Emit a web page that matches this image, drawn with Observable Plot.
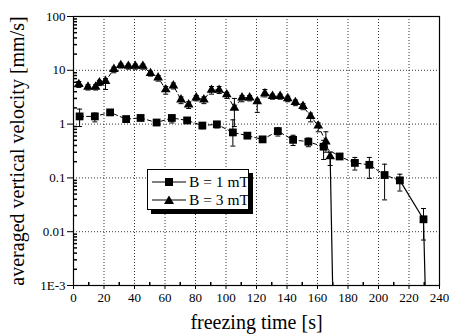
<!DOCTYPE html>
<html><head><meta charset="utf-8">
<script src="https://cdn.jsdelivr.net/npm/d3@7"></script>
<script src="https://cdn.jsdelivr.net/npm/@observablehq/plot@0.6"></script>
<style>
body{margin:0;background:#fff}
#wrap{position:relative;width:449px;height:335px;font-family:"Liberation Serif",serif}
#wrap svg, #wrap svg text{font-family:"Liberation Serif",serif !important}
#legend{position:absolute;left:147px;top:169px;width:100px;height:39px;border:1px solid #000;background:#fff;box-shadow:4px 4px 0 #000}
.row{position:absolute;left:4px;height:18px;display:flex;align-items:center;font-size:15.5px;white-space:nowrap}
.row svg{margin-right:3px}
</style>
</head><body><div id="wrap"><div id="legend"></div></div>
<script>
// B = 1 mT (squares)
const t1  = [4,14,24,34.5,44,54.5,64.5,74.5,84.5,94,104.5,114,124,134,144,154,164,174.5,184.5,194,204,214,229.5];
const v1  = [1.39,1.39,1.65,1.24,1.3,1.07,1.3,1.17,0.94,0.99,0.70,0.61,0.52,0.74,0.51,0.47,0.38,0.25,0.19,0.175,0.113,0.09,0.017];
const lo1 = [0.9,1.1,1.45,1.15,1.2,0.98,1.05,1.05,0.82,0.85,0.39,0.56,0.47,0.6,0.4,0.38,0.22,0.23,0.14,0.098,0.039,0.057,0.007];
const hi1 = [1.9,1.6,1.8,1.3,1.4,1.15,1.45,1.25,1.05,1.1,1.2,0.66,0.58,0.85,0.62,0.55,0.5,0.27,0.24,0.24,0.18,0.117,0.027];
// B = 3 mT (triangles)
const t3  = [3.5,9.5,14.5,17,21,26.5,31,36,40.5,45.5,50.5,55.5,60.5,65.5,70.5,75.5,80.5,85.5,90.5,95.5,100.5,105.5,110.5,115.5,120.5,125.5,130.5,135.5,140.5,145.5,150.5,155.5,160.5,165.5,168.3];
const v3  = [5.5,4.9,4.9,5.9,6.3,10.5,12.4,12,12,12,8.8,7.3,4.4,5.2,2.85,2.3,3.1,2.85,4.3,4.3,3.55,2.0,3.1,3.1,2.65,3.7,3.3,3.3,3.0,2.55,2.15,1.4,0.93,0.47,0.25];
const lo3 = [4.8,4.3,4.3,5.2,4.4,9.0,11,10.5,10.5,10.5,7.8,6.3,3.6,4.5,2.4,1.95,2.7,2.4,3.6,3.7,3.0,0.9,2.6,2.7,1.65,3.2,2.9,2.9,2.6,2.2,1.85,1.1,0.72,0.3,0.17];
const hi3 = [6.2,5.4,5.4,6.5,7.0,11.5,13.5,13,13,13,9.6,8.0,5.0,5.8,3.2,2.6,3.4,3.2,5.0,5.0,3.9,3.0,3.4,3.4,2.9,4.4,3.6,3.6,3.3,2.8,2.4,1.6,1.05,0.72,0.3];
// drops to below the axis (values off scale)
const drop1T = [214,229.5,231.5], drop1V = [0.09,0.017,0.0001];
const drop3T = [168.3,170.6],     drop3V = [0.25,0.0001];
// axes
const xTicks = [0,20,40,60,80,100,120,140,160,180,200,220,240];
const xMinor = [10,30,50,70,90,110,130,150,170,190,210,230];
const yTicks = [0.001,0.01,0.1,1,10,100];
const yLabels = ["1E-3","0.01","0.1","1","10","100"];
const yMinor = [0.001,0.01,0.1,1,10].flatMap(d => [2,3,4,5,6,7,8,9].map(k => +(d*k).toPrecision(3)));
const seriesNames = ["B = 1 mT","B = 3 mT"];
const xTitle = "freezing time [s]";
const yTitle = "averaged vertical velocity [mm/s]";

const s1 = t1.map((t,i)=>({t, v:v1[i], lo:lo1[i], hi:hi1[i]}));
const s3 = t3.map((t,i)=>({t, v:v3[i], lo:lo3[i], hi:hi3[i]}));
const d1 = drop1T.map((t,i)=>({t, v:drop1V[i]}));
const d3d = drop3T.map((t,i)=>({t, v:drop3V[i]}));

const cap = {draw(ctx){ctx.moveTo(-2.5,0);ctx.lineTo(2.5,0);}};
const vTick = {draw(ctx){ctx.moveTo(0,0);ctx.lineTo(0,-3.5);}};
const hTick = {draw(ctx){ctx.moveTo(0,0);ctx.lineTo(3.5,0);}};
const serif = "Liberation Serif";

const chart = Plot.plot({
  width: 449, height: 335,
  marginLeft: 73, marginRight: 10, marginTop: 16, marginBottom: 50,
  style: {fontFamily: serif, fontSize: "13px", color: "#000", background: "#fff"},
  x: {domain: [0,240], ticks: xTicks, tickSize: 4, tickPadding: 3, label: null, tickFormat: d => String(d)},
  y: {type: "log", domain: [0.001,100], ticks: yTicks, tickSize: 6, tickPadding: 2, label: null,
      tickFormat: d => yLabels[yTicks.indexOf(d)]},
  marks: [
    Plot.ruleX(xTicks.slice(1,-1), {stroke: "#000", strokeWidth: 0.8, strokeDasharray: "1,2"}),
    Plot.ruleY(yTicks.slice(1,-1), {stroke: "#000", strokeWidth: 0.8, strokeDasharray: "1,2"}),
    Plot.dot(xMinor.map(x => ({x})), {x: "x", y: () => 0.001, symbol: vTick, stroke: "#000", r: 3}),
    Plot.dot(yMinor.map(y => ({y})), {x: () => 0, y: "y", symbol: hTick, stroke: "#000", r: 3}),
    // error bars
    Plot.ruleX(s1, {x: "t", y1: "lo", y2: "hi", stroke: "#000", strokeWidth: 1}),
    Plot.dot(s1, {x: "t", y: "lo", symbol: cap, stroke: "#000", strokeWidth: 1}),
    Plot.dot(s1, {x: "t", y: "hi", symbol: cap, stroke: "#000", strokeWidth: 1}),
    Plot.ruleX(s3, {x: "t", y1: "lo", y2: "hi", stroke: "#000", strokeWidth: 1}),
    Plot.dot(s3, {x: "t", y: "lo", symbol: cap, stroke: "#000", strokeWidth: 1}),
    Plot.dot(s3, {x: "t", y: "hi", symbol: cap, stroke: "#000", strokeWidth: 1}),
    // lines
    Plot.line(s1.filter(d => d.t <= 214), {x: "t", y: "v", stroke: "#000", strokeWidth: 1, strokeDasharray: "4,3"}),
    Plot.line(s3, {x: "t", y: "v", stroke: "#000", strokeWidth: 1, strokeDasharray: "4,3"}),
    Plot.line(d1, {x: "t", y: "v", stroke: "#000", strokeWidth: 1.2, clip: true}),
    Plot.line(d3d, {x: "t", y: "v", stroke: "#000", strokeWidth: 1.2, clip: true}),
    // markers
    Plot.dot(s1, {x: "t", y: "v", symbol: "square", fill: "#000", r: 4.4}),
    Plot.dot(s3, {x: "t", y: "v", symbol: "triangle", fill: "#000", r: 3.6}),
    Plot.frame({stroke: "#000", strokeWidth: 1.2}),
    Plot.text([yTitle], {text: d => d, frameAnchor: "left", textAnchor: "middle", lineAnchor: "middle", rotate: -90, dx: -56, fontSize: 20, fontFamily: serif}),
    Plot.text([xTitle], {text: d => d, frameAnchor: "bottom", textAnchor: "middle", lineAnchor: "middle", dy: 37, fontSize: 20, fontFamily: serif})
  ]
});
d3.select(chart).selectAll("text").attr("font-family", serif).style("font-family", '"Liberation Serif", serif');
document.getElementById("wrap").prepend(chart);

// legend
const legend = document.getElementById("legend");
seriesNames.forEach((name, i) => {
  const row = document.createElement("div");
  row.className = "row";
  row.style.top = (i === 0 ? 3 : 21) + "px";
  const marker = i === 0
    ? '<rect x="13" y="5" width="8" height="8" fill="#000"/>'
    : '<path d="M17,4.5 L22,13 L12,13 Z" fill="#000"/>';
  row.innerHTML = `<svg width="34" height="18"><line x1="0" y1="9" x2="34" y2="9" stroke="#000" stroke-width="1.2"/>${marker}</svg><span>${name}</span>`;
  legend.appendChild(row);
});
</script>
</body></html>
